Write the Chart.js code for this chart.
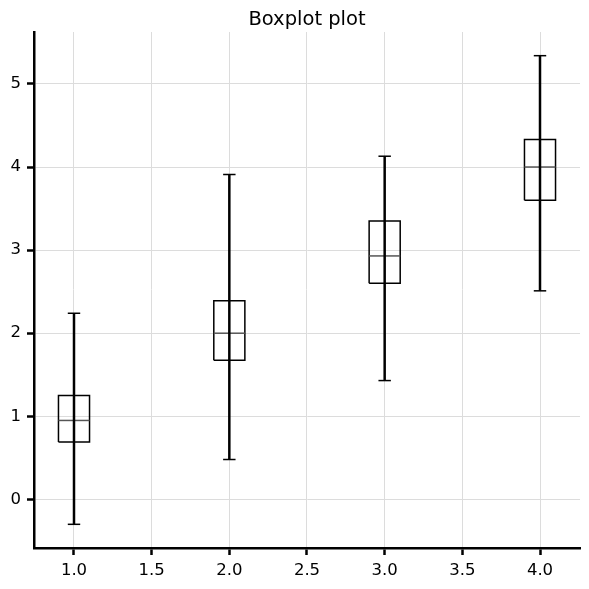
<!DOCTYPE html>
<html>
<head>
<meta charset="utf-8">
<script src="https://cdn.jsdelivr.net/npm/chart.js@4/dist/chart.umd.min.js"></script>
<style>
  body { margin: 0; background: #fff; }
  canvas { display: block; }
</style>
</head>
<body>
<canvas id="myChart" width="589" height="589"></canvas>
<script>
const positions = [1, 2, 3, 4];
const whiskerLow = [-0.30, 0.48, 1.43, 2.51];
const q1 = [0.69, 1.675, 2.60, 3.60];
const medians = [0.95, 2.00, 2.93, 4.00];
const q3 = [1.25, 2.39, 3.35, 4.33];
const whiskerHigh = [2.24, 3.91, 4.13, 5.34];

const xTicks = [1.0, 1.5, 2.0, 2.5, 3.0, 3.5, 4.0];
const yTicks = [0, 1, 2, 3, 4, 5];

const boxHalf = 0.1;
const capHalf = 0.04;

function lineSet(points, color, width){
    return {
        data: points,
        showLine: true,
        fill: false,
        borderColor: color,
        borderWidth: width,
        pointRadius: 0,
        tension: 0
    };
}

// whiskers first so they end up drawn on top
const datasets = [];
for(let i = 0; i < positions.length; i++){
    const c = positions[i];
    datasets.push(lineSet([{x: c, y: whiskerLow[i]}, {x: c, y: whiskerHigh[i]}], '#000', 2.5));
    datasets.push(lineSet([{x: c - capHalf, y: whiskerLow[i]}, {x: c + capHalf, y: whiskerLow[i]}], '#000', 1.5));
    datasets.push(lineSet([{x: c - capHalf, y: whiskerHigh[i]}, {x: c + capHalf, y: whiskerHigh[i]}], '#000', 1.5));
}
for(let i = 0; i < positions.length; i++){
    const c = positions[i];
    datasets.push(lineSet([{x: c - boxHalf, y: medians[i]}, {x: c + boxHalf, y: medians[i]}], '#555', 1.5));
    datasets.push(lineSet([
        {x: c - boxHalf, y: q1[i]}, {x: c + boxHalf, y: q1[i]},
        {x: c + boxHalf, y: q3[i]}, {x: c - boxHalf, y: q3[i]},
        {x: c - boxHalf, y: q1[i]}
    ], '#000', 1.5));
}

const plotTitle = {
    id: 'plotTitle',
    afterDraw(chart){
        const ctx = chart.ctx;
        const area = chart.chartArea;
        ctx.save();
        ctx.font = '19.5px "DejaVu Sans"';
        ctx.fillStyle = '#000';
        ctx.textAlign = 'center';
        ctx.textBaseline = 'alphabetic';
        ctx.fillText('Boxplot plot', (area.left + area.right) / 2, 25);
        ctx.restore();
    }
};

Chart.defaults.font.family = '"DejaVu Sans"';
Chart.defaults.font.size = 16.5;
Chart.defaults.color = '#000';

const ctx = document.getElementById('myChart').getContext('2d');
const chart = new Chart(ctx, {
    type: 'scatter',
    data: { datasets: datasets },
    options: {
        responsive: false,
        animation: false,
        devicePixelRatio: 1,
        layout: { padding: { top: 32, right: 9, left: 0, bottom: 0 } },
        plugins: { legend: { display: false }, tooltip: { enabled: false } },
        scales: {
            x: {
                type: 'linear',
                min: 0.7425,
                max: 4.2575,
                afterFit(scale){ scale.height = 41; },
                afterBuildTicks(scale){ scale.ticks = xTicks.map(v => ({value: v})); },
                ticks: { padding: 6, callback: v => v.toFixed(1), maxRotation: 0 },
                grid: { color: '#dcdcdc', lineWidth: 1, tickColor: '#000', tickLength: 7, tickWidth: 2.5 },
                border: { color: '#000', width: 2.5 }
            },
            y: {
                type: 'linear',
                min: -0.585,
                max: 5.625,
                afterFit(scale){ scale.width = 34; },
                afterBuildTicks(scale){ scale.ticks = yTicks.map(v => ({value: v})); },
                ticks: { padding: 6, callback: v => String(v) },
                grid: { color: '#dcdcdc', lineWidth: 1, tickColor: '#000', tickLength: 7, tickWidth: 2.5 },
                border: { color: '#000', width: 2.5 }
            }
        }
    },
    plugins: [plotTitle]
});
</script>
</body>
</html>
